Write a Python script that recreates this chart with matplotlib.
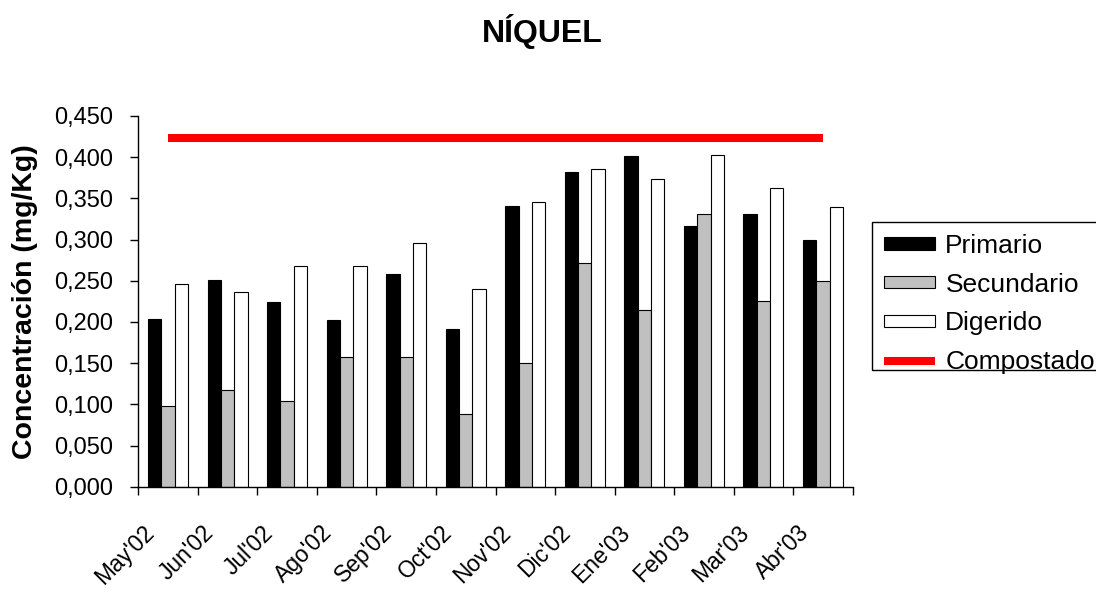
#!/usr/bin/env python3

import matplotlib
matplotlib.use('Agg')
import matplotlib.pyplot as pyplot
from matplotlib.patches import Rectangle
from matplotlib.ticker import FuncFormatter, FixedLocator
from matplotlib.transforms import ScaledTranslation

months = ["May'02", "Jun'02", "Jul'02", "Ago'02", "Sep'02", "Oct'02",
          "Nov'02", "Dic'02", "Ene'03", "Feb'03", "Mar'03", "Abr'03"]
primario = [0.204, 0.251, 0.224, 0.202, 0.258, 0.192,
            0.341, 0.382, 0.401, 0.316, 0.331, 0.299]
secundario = [0.098, 0.117, 0.104, 0.158, 0.158, 0.088,
              0.150, 0.272, 0.214, 0.331, 0.226, 0.250]
digerido = [0.246, 0.236, 0.268, 0.268, 0.296, 0.240,
            0.345, 0.386, 0.374, 0.403, 0.362, 0.340]
compostado = [0.423] * len(months)

pyplot.rcParams['font.family'] = ['Liberation Sans', 'DejaVu Sans']

fig = pyplot.figure(figsize=(10.96, 5.92), dpi=100)
ax = fig.add_axes([138.3 / 1096, 1 - 486.7 / 592, (852.7 - 138.3) / 1096, (486.7 - 116) / 592])

x = list(range(len(months)))
w = 0.224
bar_p = ax.bar([i - w for i in x], primario, width=w, color='black', edgecolor='black', linewidth=0.8)
bar_s = ax.bar(x, secundario, width=w, color='#c0c0c0', edgecolor='black', linewidth=0.8)
bar_d = ax.bar([i + w for i in x], digerido, width=w, color='white', edgecolor='black', linewidth=0.8)
line_c, = ax.plot(x, compostado, color='#ff0000', linewidth=5.8, solid_capstyle='butt')

ax.set_xlim(-0.5, len(months) - 0.5)
ax.set_ylim(0, 0.45)
ax.set_yticks([i * 0.05 for i in range(10)])
ax.yaxis.set_major_formatter(FuncFormatter(lambda v, p: ('%.3f' % v).replace('.', ',')))
ax.tick_params(axis='y', direction='out', length=6, width=1, pad=12, labelsize=17)

# ticks on the category borders, labels at the centres
ax.xaxis.set_major_locator(FixedLocator([i - 0.5 for i in range(len(months) + 1)]))
ax.xaxis.set_major_formatter(FuncFormatter(lambda v, p: ''))
ax.set_xticks(x, minor=True)
ax.set_xticklabels(months, minor=True)
ax.tick_params(axis='x', which='major', direction='out', length=6, width=1)
ax.tick_params(axis='x', which='minor', length=0, pad=34, labelsize=16.5)
offset = ScaledTranslation(-0.13, 0, fig.dpi_scale_trans)
for lab in ax.get_xticklabels(minor=True):
    lab.set_rotation(45)
    lab.set_ha('right')
    lab.set_va('baseline')
    lab.set_rotation_mode('anchor')
    lab.set_transform(lab.get_transform() + offset)

for side in ['top', 'right']:
    ax.spines[side].set_visible(False)
for side in ['left', 'bottom']:
    ax.spines[side].set_linewidth(1)

fig.text(0.495, 1 - 41.7 / 592, 'NÍQUEL', ha='center', va='baseline', fontsize=23, fontweight='bold')
fig.text(25 / 1096, 1 - 302 / 592, 'Concentración (mg/Kg)', rotation=90, ha='center', va='center',
         fontsize=20.5, fontweight='bold')

fig.legend((bar_p, bar_s, bar_d, line_c), ('Primario', 'Secundario', 'Digerido', 'Compostado'),
           loc='upper left', bbox_to_anchor=(872 / 1096, 1 - 222 / 592), fontsize=19,
           frameon=False, handlelength=1.95, handleheight=0.35, handletextpad=0.38,
           labelspacing=0.56, borderpad=0.45, borderaxespad=0)
# legend box is cut short at the bottom and right in the original
fig.patches.append(Rectangle((872 / 1096, 1 - 370 / 592), 240 / 1096, 148 / 592,
                             transform=fig.transFigure, fill=False, edgecolor='black', linewidth=1))

fig.savefig('out.png', dpi=100)
